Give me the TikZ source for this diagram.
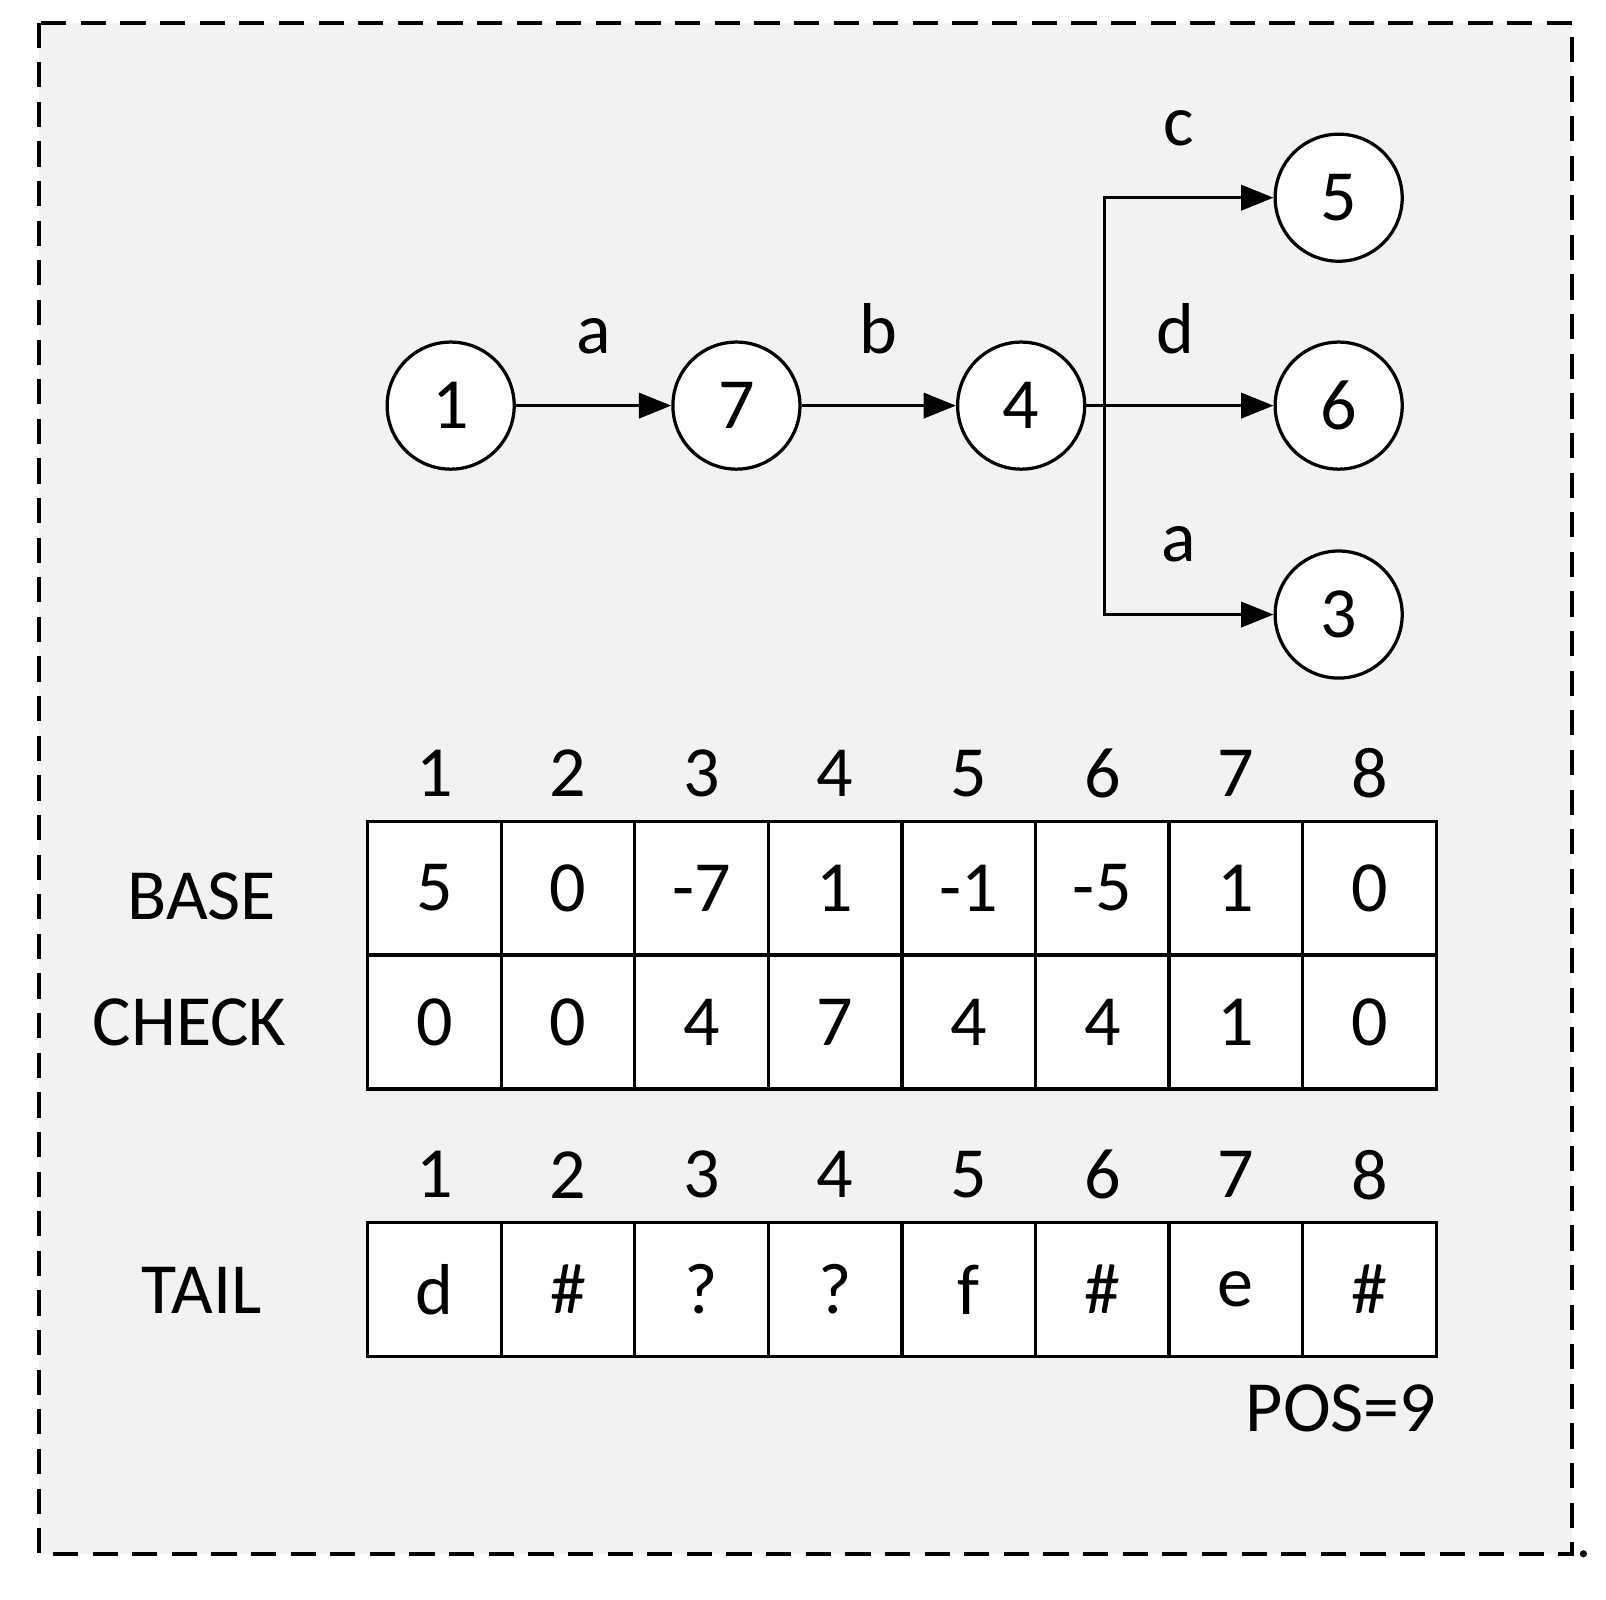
\documentclass[tikz,border=0pt]{standalone}
\usepackage{fontspec}
\setmainfont{Carlito}
\usetikzlibrary{arrows.meta}
\definecolor{panel}{gray}{0.95}

\begin{document}
\begin{tikzpicture}[x=0.01cm,y=-0.01cm,
      state/.style={circle,draw=black,fill=white,line width=0.9pt,minimum size=1.24cm,inner sep=0pt,font=\fontsize{20}{24}\selectfont},
      link/.style={line width=0.9pt,-{Triangle[length=9pt,width=7pt]}},
      cell/.style={rectangle,draw=black,fill=white,line width=0.9pt,minimum width=1.304cm,minimum height=1.304cm,inner sep=0pt,font=\fontsize{20}{24}\selectfont},
      txt/.style={font=\fontsize{20}{24}\selectfont,inner sep=0pt}
      ]
      \useasboundingbox (0,0) rectangle (1568,1562);
      \draw[fill=panel,line width=1.1pt,dash pattern=on 7pt off 4pt] (38,22) rectangle (1535,1517);
      \fill (1546,1517) circle (3.5);
      % trie
      \node[state] (s1) at (440,396) {1};
      \node[state] (s7) at (719,396) {7};
      \node[state] (s4) at (997,396) {4};
      \node[state] (s5) at (1307,193) {5};
      \node[state] (s6) at (1307,396) {6};
      \node[state] (s3) at (1307,600) {3};
      \coordinate (fork) at (1078,396);
      \draw[link] (s1) -- node[txt,above=14pt] (la) {a} (s7);
      \draw[link] (s7) -- node[txt,above=14pt] (lb) {b} (s4);
      \draw[link] (s4) -- (fork) -- node[txt,above=14pt,pos=0.42] (ld) {d} (s6);
      \draw[link] (fork) |- node[txt,above=14pt,pos=0.72] (lc) {c} (s5);
      \draw[link] (fork) |- node[txt,above=14pt,pos=0.72] (la2) {a} (s3);
      % double array
      \foreach \i/\b/\c/\t in {1/5/0/d,2/0/0/\#,3/-7/4/?,4/1/7/?,5/-1/4/f,6/-5/4/\#,7/1/1/e,8/0/0/\#}{
        \node[cell] (base\i) at ({359+65.2+130.4*(\i-1)},867) {\b};
        \node[cell] (check\i) at ({359+65.2+130.4*(\i-1)},998) {\c};
        \node[cell] (tail\i) at ({359+65.2+130.4*(\i-1)},1259) {\t};
        \node[txt] (bidx\i) at ({359+65.2+130.4*(\i-1)},755) {\i};
        \node[txt] (tidx\i) at ({359+65.2+130.4*(\i-1)},1147) {\i};
      }
      \node[txt] (baselbl) at (197,875) {BASE};
      \node[txt] (checklbl) at (185,998) {CHECK};
      \node[txt] (taillbl) at (197,1260) {TAIL};
      \node[txt,anchor=east] (pos) at (1403,1375) {POS=9};
    \end{tikzpicture}
\end{document}
